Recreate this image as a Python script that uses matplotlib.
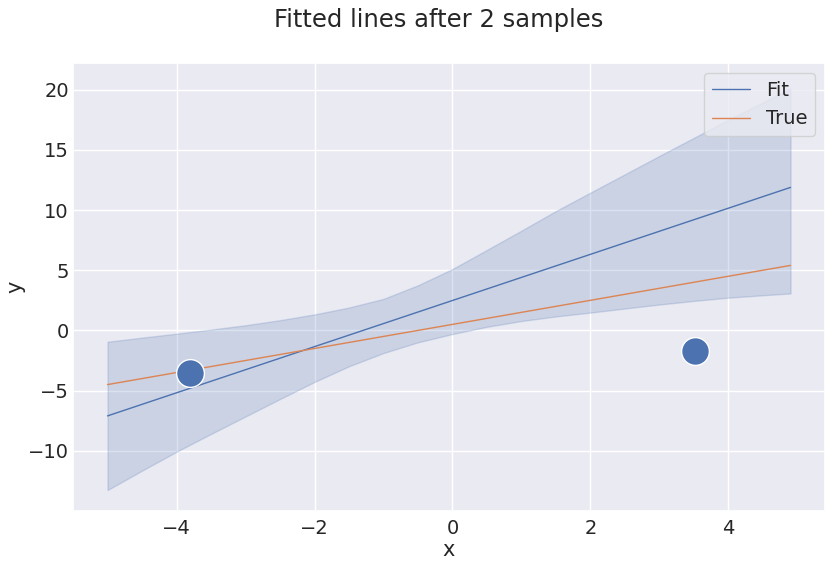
import numpy as np
import matplotlib
matplotlib.use("Agg")
import matplotlib.pyplot as plt
import seaborn as sns

sns.set_theme(style="darkgrid")

x_grid = [-5, -4.5, -4, -3.5, -3, -2.5, -2, -1.5, -1, -0.5, 0, 0.5, 1, 1.5,
          2, 2.5, 3, 3.5, 4, 4.5, 4.9]
band_upper = [-0.94, -0.6, -0.27, 0.07, 0.43, 0.85, 1.33, 1.9, 2.62, 3.75, 5.1,
              6.69, 8.29, 9.92, 11.45, 12.97, 14.5, 16.0, 17.5, 18.95, 20.1]
band_lower = [-13.26, -11.65, -10.08, -8.6, -7.15, -5.7, -4.28, -2.98, -1.88,
              -0.99, -0.3, 0.3, 0.78, 1.16, 1.48, 1.82, 2.15, 2.45, 2.72, 2.92, 3.07]

# line end points
line_x = [-5, 4.9]
fit_y = [-7.1, 11.88]
true_y = [-4.5, 5.4]

# observed samples
sample_x = [-3.81, 3.52]
sample_y = [-3.5, -1.68]

fig, ax = plt.subplots(figsize=(8.3, 5.64), dpi=100)
fig.subplots_adjust(left=0.088, right=0.994, top=0.888, bottom=0.094)

ax.fill_between(x_grid, band_lower, band_upper, color="C0", alpha=0.2, linewidth=1)
ax.plot(line_x, fit_y, color="C0", linewidth=1, label="Fit")
ax.plot(line_x, true_y, color="C1", linewidth=1, label="True")
ax.scatter(sample_x, sample_y, s=400, color="C0", edgecolor="white", linewidth=1, zorder=3)

ax.set_xlim(-5.5, 5.4)
ax.set_ylim(-15, 22.2)
ax.set_xticks([-4, -2, 0, 2, 4])
ax.set_yticks([-10, -5, 0, 5, 10, 15, 20])
ax.tick_params(axis="x", labelsize=14, length=0, pad=6)
ax.tick_params(axis="y", labelsize=14, length=0, pad=3)
ax.set_xlabel("x", fontsize=15, labelpad=1)
ax.set_ylabel("y", fontsize=15)
ax.yaxis.set_label_coords(-0.063, 0.5)
ax.legend(loc="upper right", fontsize=14)

fig.suptitle("Fitted lines after 2 samples", fontsize=17.5, x=0.528, y=0.985)

fig.savefig("out.png", dpi=100)
